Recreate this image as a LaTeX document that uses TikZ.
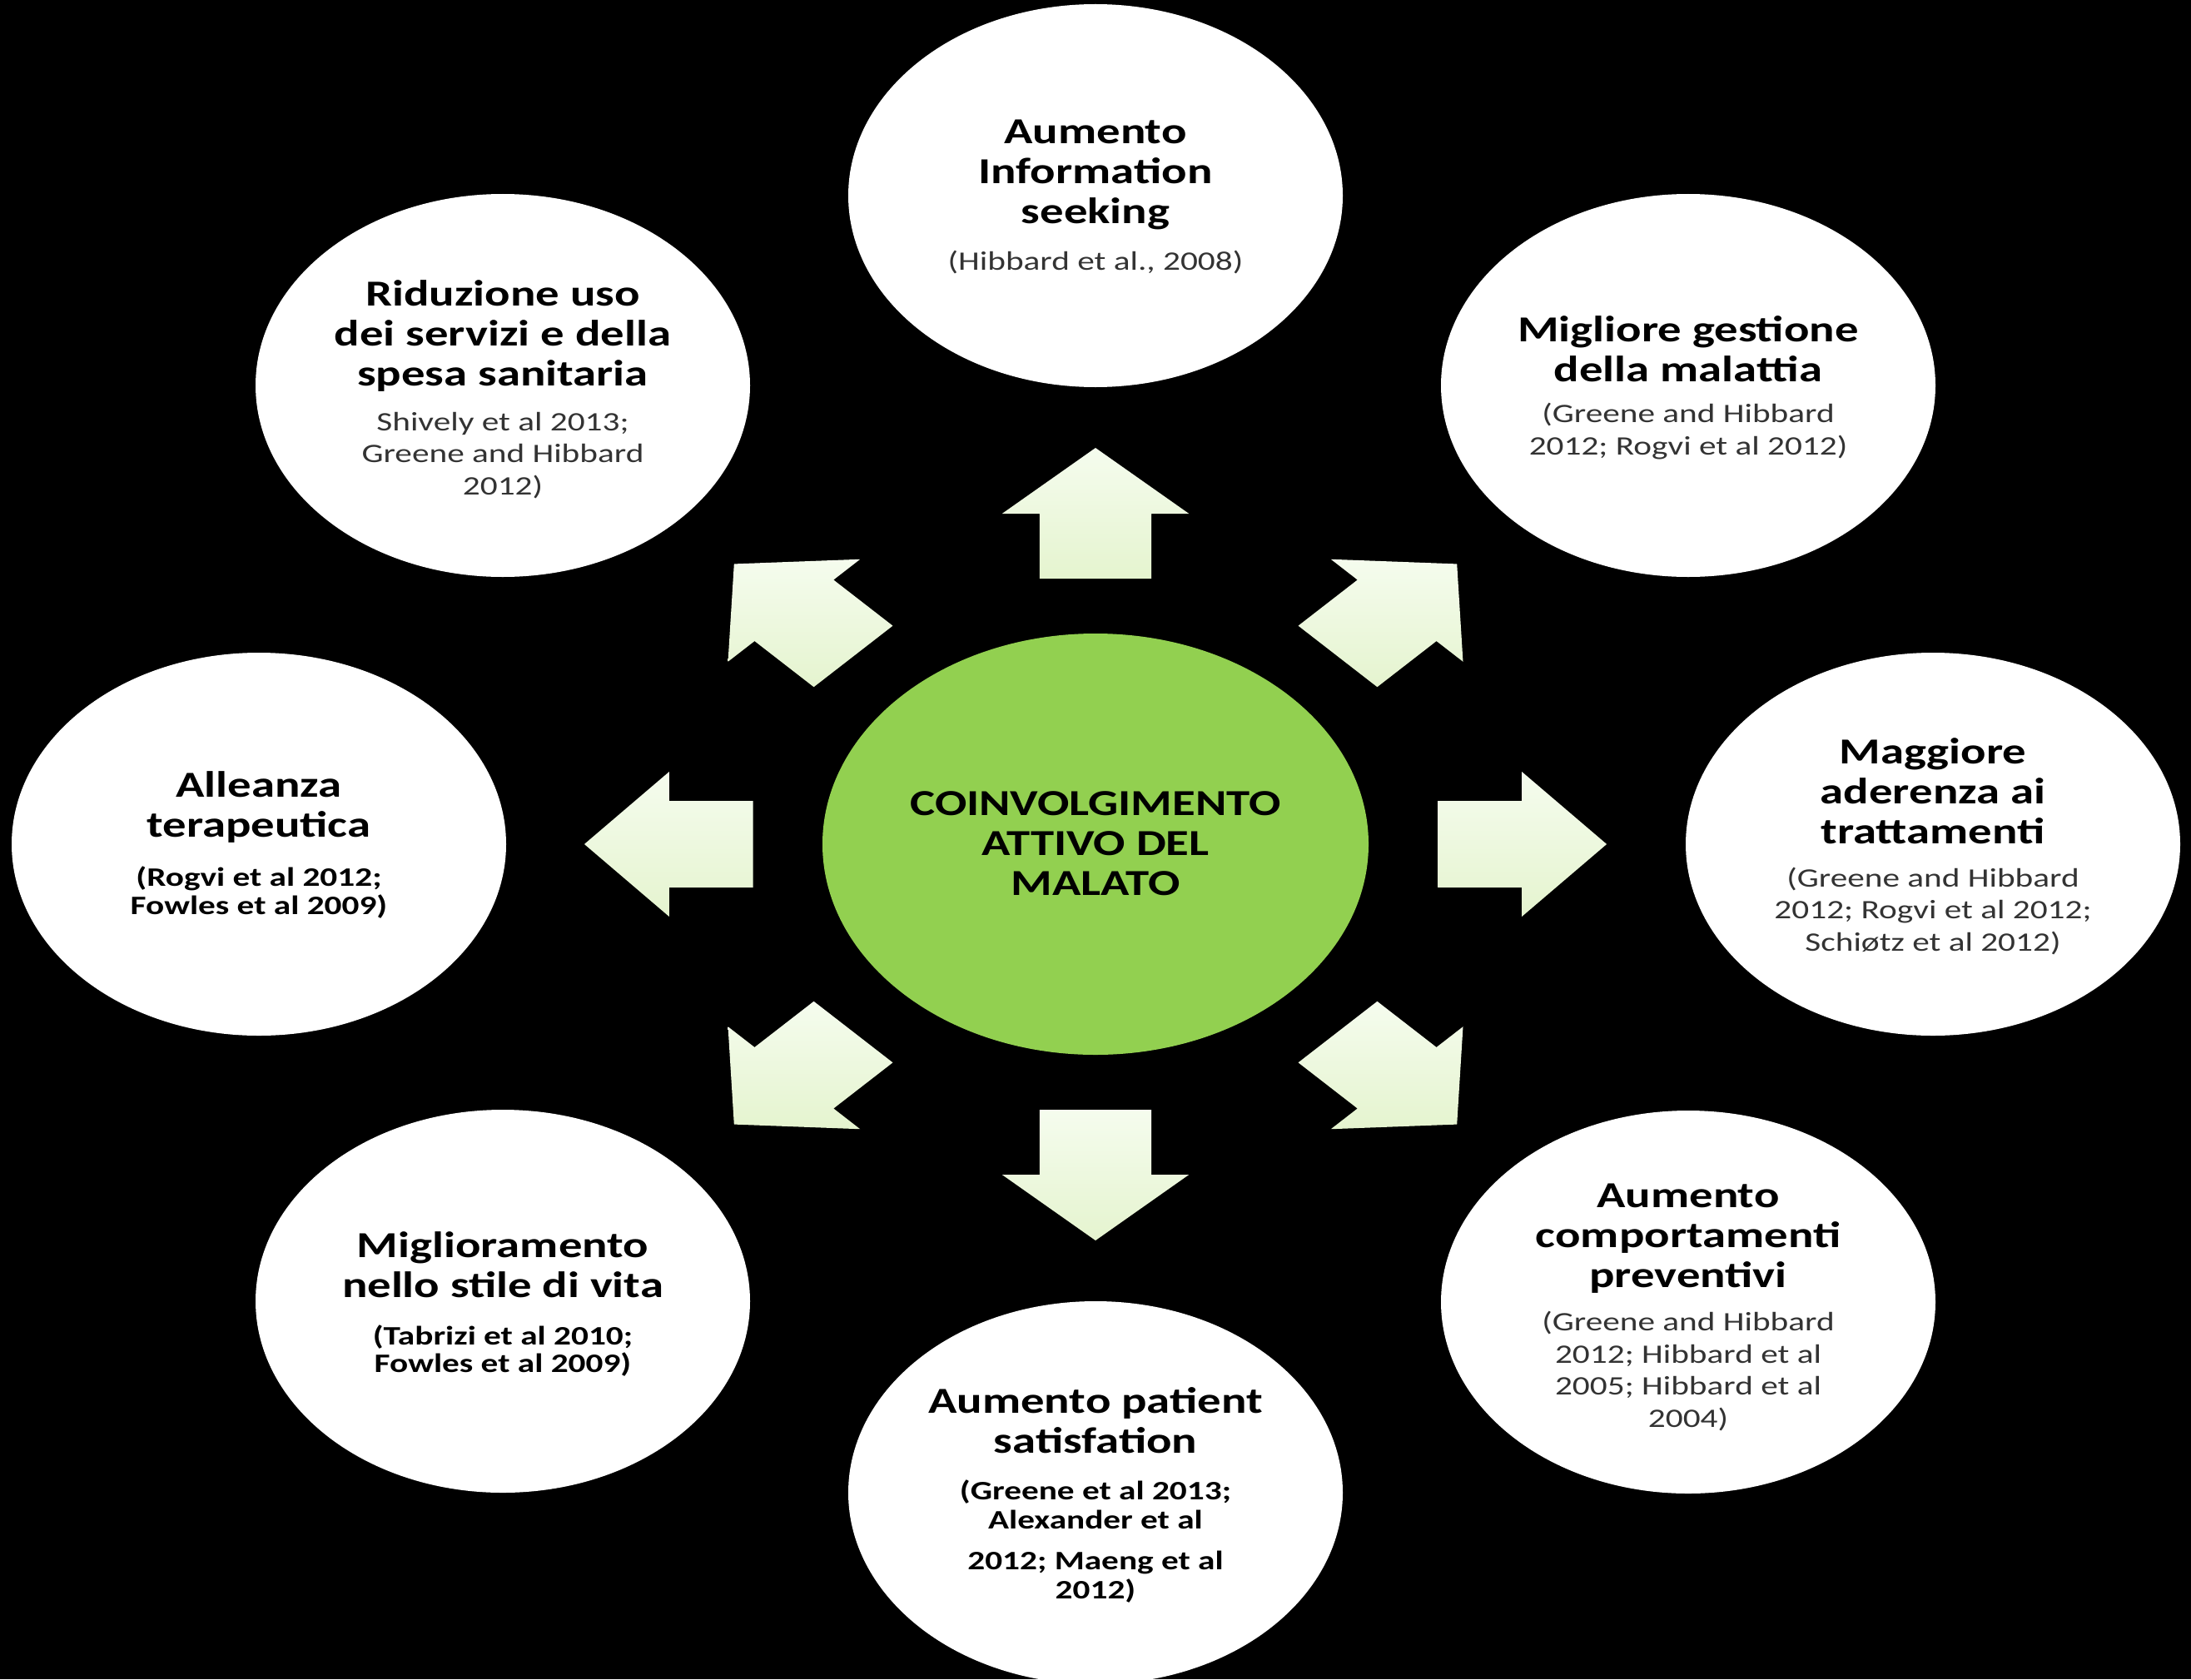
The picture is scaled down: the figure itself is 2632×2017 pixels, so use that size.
\documentclass[tikz,border=0pt]{standalone}
\usepackage{fontspec}
\setmainfont{Carlito}
\usetikzlibrary{shapes.geometric}
\definecolor{ctr}{HTML}{92D050}
\definecolor{arrtop}{HTML}{F5FCEE}
\definecolor{arrbot}{HTML}{E5F4CF}
\definecolor{citegray}{HTML}{333333}
\newcommand\arrpt[2]{({1316+1.29*((#1)*cos(\a)+(#2)*sin(\a))},{1014-(#1)*sin(\a)+(#2)*cos(\a)})}
\begin{document}
\begin{tikzpicture}[x=0.5pt,y=-0.5pt,
  bubble/.style={ellipse, fill=white, minimum width=297pt, minimum height=230pt, inner sep=0pt},
  hub/.style={ellipse, fill=ctr, minimum width=328pt, minimum height=253pt, inner sep=0pt},
  ttl/.style={align=center, xscale=1.29, font=\bfseries\fontsize{22}{24}\selectfont, text=black, inner sep=0pt},
  cit/.style={align=center, xscale=1.29, font=\fontsize{16}{19.3}\selectfont, text=citegray, inner sep=0pt},
  citb/.style={align=center, xscale=1.29, font=\bfseries\fontsize{16}{16.8}\selectfont, text=black, inner sep=0pt},
]
\fill[black] (0,0) rectangle (2632,2017);
\useasboundingbox (0,0) rectangle (2632,2017);

% arrows
\foreach \a in {0,45,...,315}{
  \shade[top color=arrtop, bottom color=arrbot]
    \arrpt{319}{-52} -- \arrpt{397}{-52} -- \arrpt{397}{-87} -- \arrpt{476}{0}
    -- \arrpt{397}{87} -- \arrpt{397}{52} -- \arrpt{319}{52} -- cycle;
}

% bubbles
\node[hub] (hub) at (1316,1014) {};
\node[bubble] (b1) at (1316,235) {};
\node[bubble] (b2) at (2028,463) {};
\node[bubble] (b3) at (2322,1014) {};
\node[bubble] (b4) at (2028,1564) {};
\node[bubble] (b5) at (1316,1793) {};
\node[bubble] (b6) at (604,1563) {};
\node[bubble] (b7) at (311,1014) {};
\node[bubble] (b8) at (604,463) {};

% texts
\node[ttl] (hubt) at (1316,1013) {COINVOLGIMENTO\\ATTIVO DEL\\MALATO};

\node[ttl] (t1) at (1316,210) {Aumento\\Information\\seeking};
\node[cit] (c1) at (1316,315) {(Hibbard et al., 2008)};

\node[ttl] (t2) at (2028,419.5) {Migliore gestione\\della malattia};
\node[cit] (c2) at (2028,518) {(Greene and Hibbard\\2012; Rogvi et al 2012)};

\node[ttl] (t3) at (2322,950) {Maggiore\\aderenza ai\\trattamenti};
\node[cit] (c3) at (2322,1094.5) {(Greene and Hibbard\\2012; Rogvi et al 2012;\\Schiøtz et al 2012)};

\node[ttl] (t4) at (2028,1488) {Aumento\\comportamenti\\preventivi};
\node[cit] (c4) at (2028,1647) {(Greene and Hibbard\\2012; Hibbard et al\\2005; Hibbard et al\\2004)};

\node[ttl] (t5) at (1316,1706.5) {Aumento patient\\satisfation};
\node[citb, font=\bfseries\fontsize{16}{17.6}\selectfont] (c5) at (1316,1851.5) {(Greene et al 2013;\\Alexander et al\\[6.7pt]2012; Maeng et al\\2012)};

\node[ttl] (t6) at (604,1519.5) {Miglioramento\\nello stile di vita};
\node[citb] (c6) at (604,1622.5) {(Tabrizi et al 2010;\\Fowles et al 2009)};

\node[ttl] (t7) at (311,969.5) {Alleanza\\terapeutica};
\node[citb] (c7) at (311,1072) {(Rogvi et al 2012;\\Fowles et al 2009)};

\node[ttl] (t8) at (604,404) {Riduzione uso\\dei servizi e della\\spesa sanitaria};
\node[cit] (c8) at (604,547) {Shively et al 2013;\\Greene and Hibbard\\2012)};
\end{tikzpicture}
\end{document}
